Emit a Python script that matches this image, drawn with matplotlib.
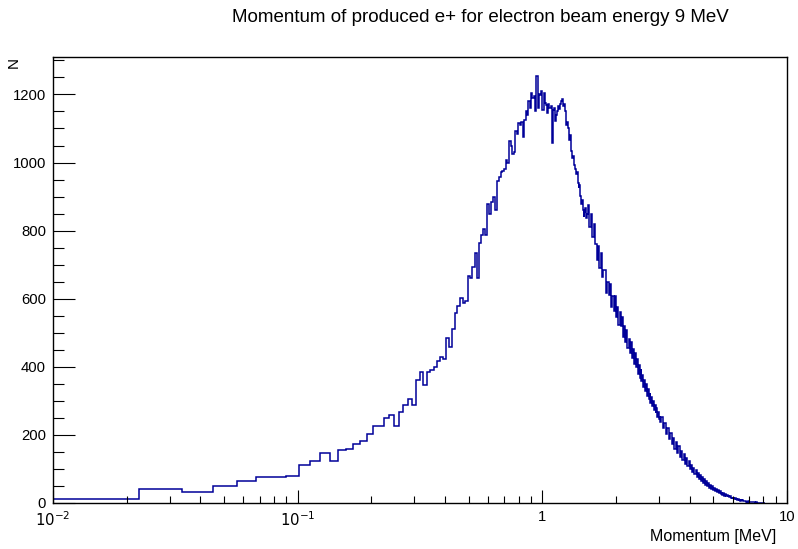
"""Positron momentum spectrum, ROOT-style step histogram on a log x axis."""

import matplotlib

matplotlib.use("Agg")
import matplotlib.pyplot as plt
import numpy as np
from matplotlib.ticker import FixedLocator, MultipleLocator, NullFormatter

plt.rcParams["font.family"] = ["Liberation Sans", "DejaVu Sans"]

TITLE = "Momentum of produced e+ for electron beam energy 9 MeV"
X_LABEL = "Momentum [MeV]"
Y_LABEL = "N"

# histogram: 800 bins over 0..9 MeV, fine binning kept up to 1.53 MeV,
# the crowded tail is stored as merged bins (2x then 4x the base width)
BIN_WIDTH = 9.0 / 800

counts_fine = [
    12, 12, 40, 33, 49, 64, 75, 77, 79, 111,
    123, 146, 124, 155, 160, 174, 182, 202, 225, 227,
    250, 258, 227, 267, 289, 305, 287, 362, 386, 348,
    386, 391, 399, 418, 430, 423, 485, 459, 511, 557,
    579, 602, 586, 594, 667, 660, 692, 735, 662, 765,
    787, 804, 787, 877, 850, 885, 898, 860, 945, 957,
    972, 975, 980, 1006, 1000, 1062, 1048, 1025, 1030, 1092,
    1085, 1116, 1111, 1118, 1074, 1126, 1150, 1140, 1181, 1160,
    1204, 1189, 1195, 1152, 1253, 1160, 1201, 1199, 1211, 1155,
    1204, 1174, 1170, 1145, 1171, 1160, 1165, 1057, 1155, 1160,
    1121, 1140, 1150, 1165, 1158, 1171, 1180, 1187, 1165, 1172,
    1150, 1111, 1120, 1101, 1067, 1080, 1035, 1025, 1013, 1020,
    994, 982, 965, 972, 940, 926, 935, 901, 877, 890,
    862, 840, 855, 867, 838, 850,
]

counts_mid = [
    875, 810, 850, 780, 820, 760, 715, 755, 690, 735,
    665, 685, 685, 618, 650, 610, 642, 577, 607, 565,
    608, 545, 575, 524, 562, 520, 547, 488, 521, 474,
    507, 455, 483, 440, 472, 426, 451, 409, 440, 398,
    423, 380, 405, 368, 394, 357, 377, 340, 362, 330,
    349, 315, 335, 305, 323, 293, 312, 284, 300, 273,
    288, 263, 278, 253, 268, 246, 257, 237,
]

counts_tail = [
    254, 220, 236, 202, 220, 188, 207, 172, 192, 160,
    178, 148, 166, 136, 154, 126, 144, 116, 132, 108,
    122, 99, 113, 91, 104, 84, 96, 77, 89, 71,
    82, 65, 76, 59, 70, 54, 64, 50, 59, 45,
    54, 42, 49, 38, 45, 35, 41, 31, 38, 29,
    35, 27, 32, 24, 29, 22, 27, 20, 24, 18,
    22, 17, 20, 15, 18, 14, 16, 12, 15, 11,
    13, 10, 12, 8, 10, 7, 9, 6, 8, 6,
    7, 5, 6, 4, 5, 4, 5, 3, 4, 3,
    3, 3, 2, 3, 2, 2, 2, 1, 2, 1,
    1, 1, 1, 1, 0.5, 1, 0.5, 0.5, 0, 0,
    0, 0,
]

x_tick_values = [0.01, 0.1, 1, 10]
x_tick_labels = [r"$10^{-2}$", r"$10^{-1}$", "1", "10"]
y_tick_values = [0, 200, 400, 600, 800, 1000, 1200]


def _edges():
    fine = np.arange(len(counts_fine) + 1) * BIN_WIDTH
    mid = fine[-1] + np.arange(1, len(counts_mid) + 1) * 2 * BIN_WIDTH
    tail = mid[-1] + np.arange(1, len(counts_tail) + 1) * 4 * BIN_WIDTH
    return np.concatenate([fine, mid, tail])


def main() -> None:
    fig = plt.figure(figsize=(7.98, 5.49), dpi=100)
    ax = fig.add_axes([53 / 798, 46 / 549, 734 / 798, 446 / 549])

    values = np.array(counts_fine + counts_mid + counts_tail, dtype=float)
    ax.set_xscale("log", nonpositive="clip")
    ax.stairs(values, _edges(), color="#000099", linewidth=1.1, baseline=0)

    ax.set_xlim(0.01, 10)
    ax.set_ylim(0, 1310)

    ax.xaxis.set_major_locator(FixedLocator(x_tick_values))
    ax.set_xticklabels(x_tick_labels)
    ax.xaxis.set_minor_locator(FixedLocator(
        [m * 10.0 ** e for e in (-2, -1, 0) for m in range(2, 10)]))
    ax.xaxis.set_minor_formatter(NullFormatter())
    ax.yaxis.set_major_locator(FixedLocator(y_tick_values))
    ax.yaxis.set_minor_locator(MultipleLocator(50))

    ax.tick_params(axis="both", which="both", direction="in",
                   top=False, right=False, width=0.8, labelsize=10.7)
    ax.tick_params(axis="x", which="major", length=9.4, pad=5)
    ax.tick_params(axis="x", which="minor", length=4.7)
    ax.tick_params(axis="y", which="major", length=15.8, pad=5)
    ax.tick_params(axis="y", which="minor", length=7.9)
    for spine in ax.spines.values():
        spine.set_linewidth(1.0)

    fig.text(480 / 798, 1 - 18 / 549, TITLE, ha="center", va="center",
             fontsize=13.5)
    fig.text(776 / 798, 1 - 537 / 549, X_LABEL, ha="right", va="center",
             fontsize=11.5)
    fig.text(14 / 798, 1 - 57 / 549, Y_LABEL, ha="center", va="top",
             rotation=90, fontsize=11)

    fig.savefig("out.png", dpi=100)


if __name__ == "__main__":
    main()
